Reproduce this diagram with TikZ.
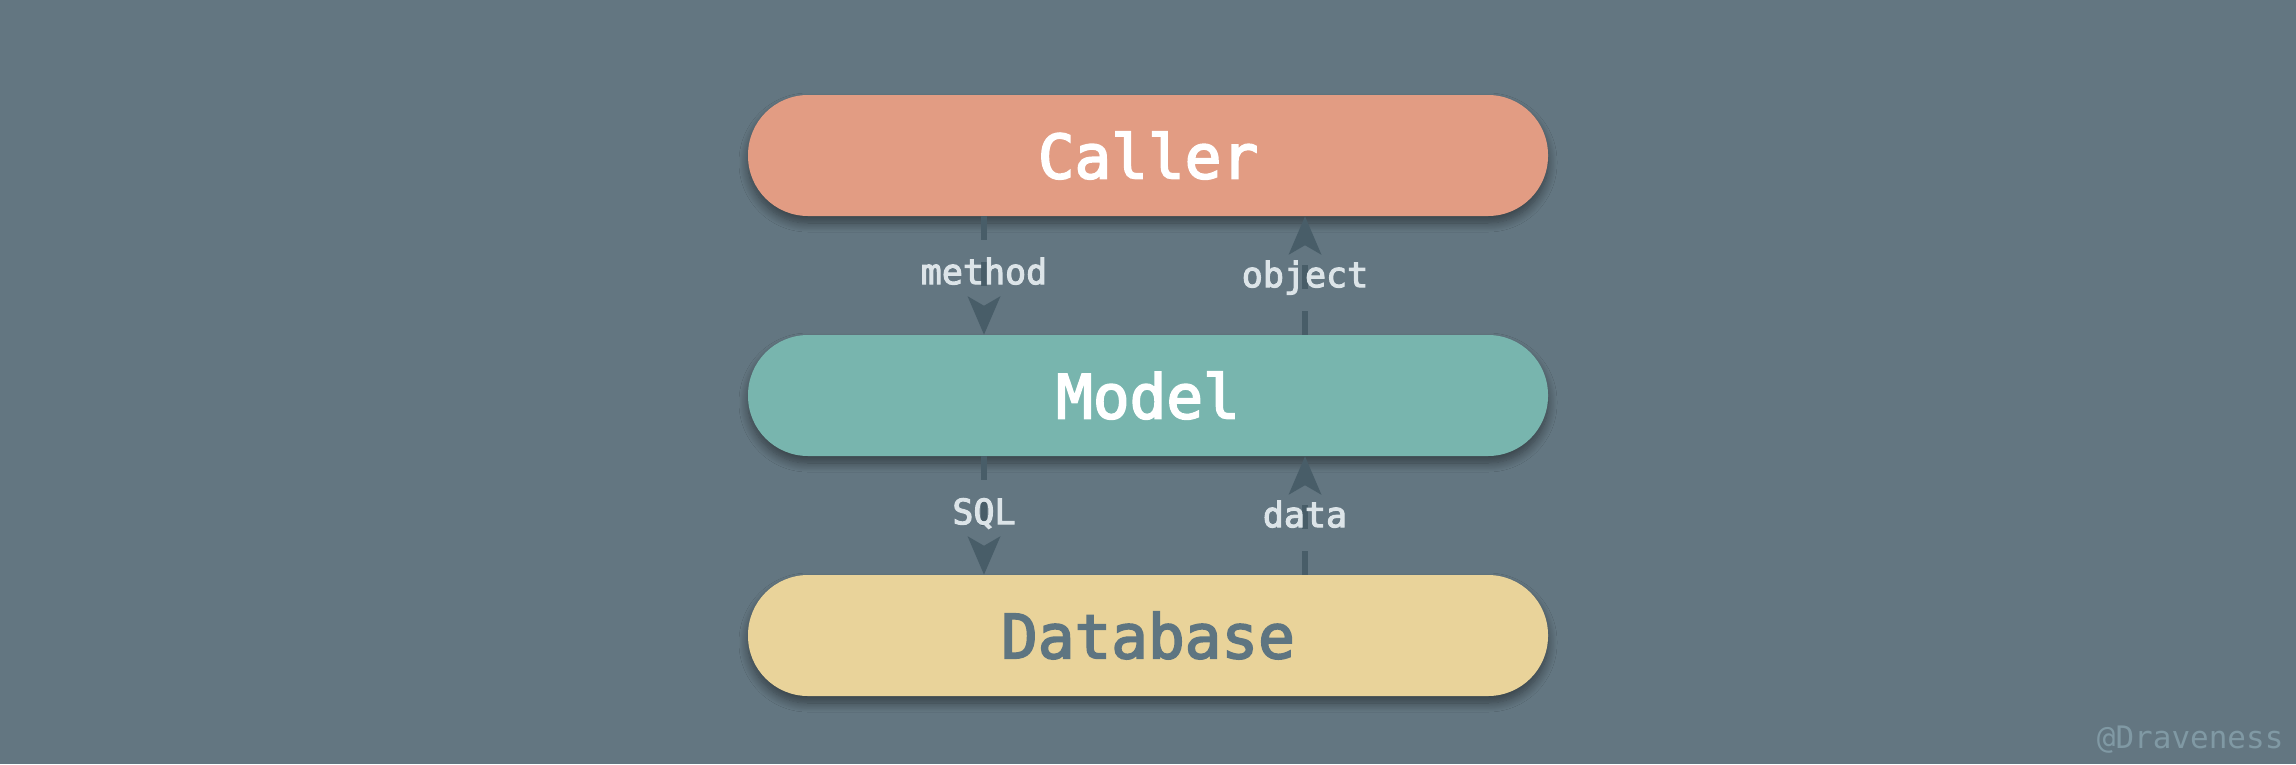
\documentclass[tikz,border=0pt]{standalone}
\usepackage{fontspec}
\newfontfamily\mono[FakeBold=3]{DejaVu Sans Mono}
\newfontfamily\wmfont{DejaVu Sans Mono}
\usetikzlibrary{arrows.meta,shadows.blur}
\definecolor{bgc}{HTML}{637681}
\definecolor{callerc}{HTML}{E29C83}
\definecolor{modelc}{HTML}{78B5AE}
\definecolor{dbc}{HTML}{E9D39A}
\definecolor{dbtext}{HTML}{5E7581}
\definecolor{linec}{HTML}{485D68}
\definecolor{lbltext}{HTML}{DCE4E8}
\definecolor{wmc}{HTML}{8099A4}
\tikzset{
  layerbox/.style={rectangle, rounded corners=60pt, minimum width=800pt, minimum height=121pt,
    inner sep=0pt, font=\mono\fontsize{61}{70}\selectfont,
    blur shadow={shadow xshift=0pt, shadow yshift=-7pt, shadow blur radius=9pt, shadow blur steps=12, shadow opacity=45}},
  arr/.style={draw=linec, line width=6pt, dash pattern=on 24pt off 22pt,
    -{Stealth[length=38pt,width=32pt,inset=9pt,sep=0pt]}},
  lbl/.style={text=lbltext, inner sep=0pt, anchor=base,
    font=\mono\fontsize{35}{40}\selectfont}
}
\begin{document}
\begin{tikzpicture}[x=1pt,y=-1pt]
\fill[bgc] (0,0) rectangle (2296,764);
\useasboundingbox (0,0) rectangle (2296,764);
\node[layerbox, fill=callerc, text=white] (caller) at (1148,155.5) {Caller};
\node[layerbox, fill=modelc, text=white] (model) at (1148,395.5) {Model};
\node[layerbox, fill=dbc, text=dbtext] (db) at (1148,635.5) {Database};
\draw[arr] ([xshift=-164pt]caller.south) -- ([xshift=-164pt]model.north);
\draw[arr] ([xshift=157pt]model.north) -- ([xshift=157pt]caller.south);
\draw[arr] ([xshift=-164pt]model.south) -- ([xshift=-164pt]db.north);
\draw[arr] ([xshift=157pt]db.north) -- ([xshift=157pt]model.south);
\node[lbl] (lm) at ([xshift=-164pt,yshift=-68pt]caller.south) {method};
\node[lbl] (lo) at ([xshift=157pt,yshift=-71pt]caller.south) {object};
\node[lbl] (ls) at ([xshift=-164pt,yshift=-68pt]model.south) {SQL};
\node[lbl] (ld) at ([xshift=157pt,yshift=-71pt]model.south) {data};
\node[text=wmc, font=\wmfont\fontsize{31}{36}\selectfont, anchor=east] (wm) at (2287,740) {@Draveness};
\end{tikzpicture}
\end{document}
